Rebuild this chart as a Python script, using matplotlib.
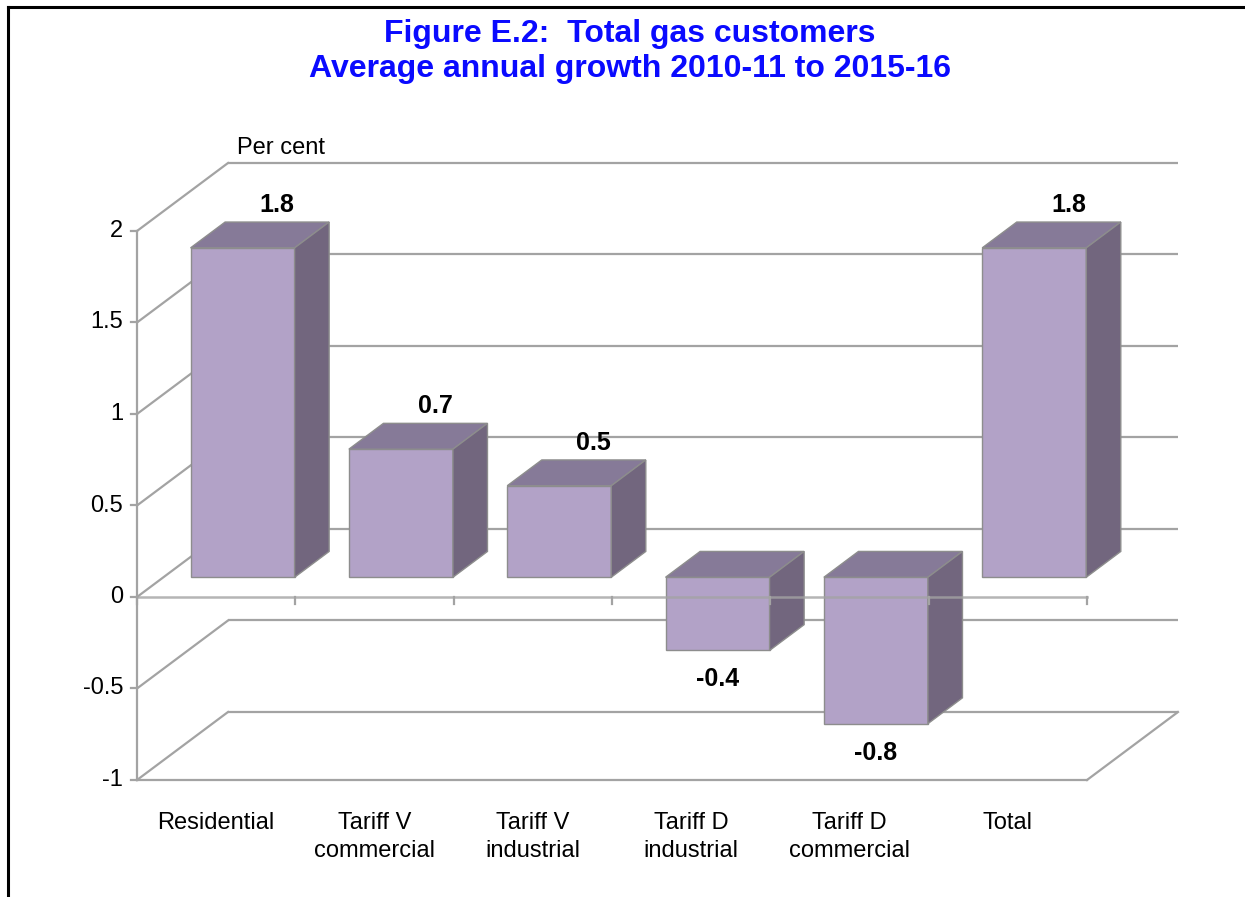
import matplotlib
matplotlib.use("Agg")
import matplotlib.pyplot as plt
from matplotlib.patches import Polygon
from matplotlib.lines import Line2D

# ---------------- data ----------------
categories = ["Residential", "Tariff V\ncommercial", "Tariff V\nindustrial",
              "Tariff D\nindustrial", "Tariff D\ncommercial", "Total"]
values = [1.8, 0.7, 0.5, -0.4, -0.8, 1.8]
value_labels = ["1.8", "0.7", "0.5", "-0.4", "-0.8", "1.8"]
y_ticks = [-1, -0.5, 0, 0.5, 1, 1.5, 2]
y_tick_labels = ["-1", "-0.5", "0", "0.5", "1", "1.5", "2"]
title = "Figure E.2:  Total gas customers\nAverage annual growth 2010-11 to 2015-16"
y_unit_label = "Per cent"

# ---------------- layout / style ----------------
W_PX, H_PX, DPI = 1245, 897, 100
X0_PX, UX_PX = 137.0, 158.33      # front-plane origin and px per category
Y0_PX, UY_PX = 597.0, 183.0       # zero line (from top) and px per unit
DX, DY = 91 / UX_PX, 68 / UY_PX   # full depth offset in data units
F0, F1 = 0.29, 0.67               # bar depth start / end fractions
BAR_W = 0.657

GRID = "#a3a3a3"
FRONT = "#b2a2c7"
TOP = "#867a98"
SIDE = "#72667e"
EDGE = "#8d8d8d"
FONT = ["Liberation Sans", "DejaVu Sans"]
plt.rcParams["font.family"] = FONT

fig = plt.figure(figsize=(W_PX / DPI, H_PX / DPI), dpi=DPI)
ax = fig.add_axes([0, 0, 1, 1])
ax.set_xlim(-X0_PX / UX_PX, (W_PX - X0_PX) / UX_PX)
ax.set_ylim(-(H_PX - Y0_PX) / UY_PX, Y0_PX / UY_PX)
ax.axis("off")

n = len(categories)
ymin, ymax = min(y_ticks), max(y_ticks)
px_x = 1 / UX_PX
px_y = 1 / UY_PX

# walls: back horizontal gridlines + left wall diagonals
for v in y_ticks:
    ax.plot([DX, n + DX], [v + DY, v + DY], color=GRID, lw=1.6, zorder=1,
            solid_capstyle="butt")
    ax.plot([0, DX], [v, v + DY], color=GRID, lw=1.6, zorder=1)
# floor front edge and right edge
ax.plot([0, n], [ymin, ymin], color=GRID, lw=1.6, zorder=1)
ax.plot([n, n + DX], [ymin, ymin + DY], color=GRID, lw=1.6, zorder=1)
# vertical value axis
ax.plot([0, 0], [ymin, ymax], color=GRID, lw=1.6, zorder=2)
for v, lab in zip(y_ticks, y_tick_labels):
    ax.plot([-6 * px_x, 0], [v, v], color=GRID, lw=1.6, zorder=2)
    ax.annotate(lab, (0, v), xytext=(-14, 0), textcoords="offset pixels",
                ha="right", va="center", fontsize=17, color="black")

# bars
for i, v in enumerate(values):
    x0 = i + 0.5 - BAR_W / 2 + F0 * DX
    x1 = x0 + BAR_W
    base = F0 * DY
    top = max(v, 0) + base
    bot = min(v, 0) + base
    ddx, ddy = (F1 - F0) * DX, (F1 - F0) * DY
    z = 5 + i
    ax.add_patch(Polygon([(x0, bot), (x1, bot), (x1, top), (x0, top)],
                         closed=True, fc=FRONT, ec=EDGE, lw=1.0, zorder=z))
    ax.add_patch(Polygon([(x0, top), (x1, top), (x1 + ddx, top + ddy),
                          (x0 + ddx, top + ddy)],
                         closed=True, fc=TOP, ec=EDGE, lw=1.0, zorder=z))
    ax.add_patch(Polygon([(x1, bot), (x1, top), (x1 + ddx, top + ddy),
                          (x1 + ddx, bot + ddy)],
                         closed=True, fc=SIDE, ec=EDGE, lw=1.0, zorder=z))
    if v >= 0:
        ax.annotate(value_labels[i], (i + 0.5 + F1 * DX, top + ddy),
                    xytext=(0, 17), textcoords="offset pixels",
                    ha="center", va="center", fontsize=18,
                    fontweight="bold", zorder=20)
    else:
        ax.annotate(value_labels[i], (i + 0.5 + F0 * DX, bot),
                    xytext=(0, -29), textcoords="offset pixels",
                    ha="center", va="center", fontsize=18,
                    fontweight="bold", zorder=20)

# category axis (front zero line) drawn over bars
ax.plot([0, n], [0, 0], color=GRID, lw=1.8, alpha=0.8, zorder=30)
for i in range(n + 1):
    ax.plot([i, i], [0, -7 * px_y], color=GRID, lw=1.6, zorder=30)

# category labels
for i, c in enumerate(categories):
    ax.annotate(c, (i + 0.5, ymin), xytext=(0, -32), textcoords="offset pixels",
                ha="center", va="top", fontsize=17, linespacing=1.35)

# unit label
ax.annotate(y_unit_label, (DX, ymax + DY), xytext=(9, 4),
            textcoords="offset pixels", ha="left", va="bottom", fontsize=17)

# title
fig.text(630 / W_PX, 1 - 19 / H_PX, title, ha="center", va="top",
         fontsize=23, fontweight="bold", color="#0a0aff", linespacing=1.2)

# frame (top and left border)
fig.add_artist(Line2D([8 / W_PX, 8 / W_PX], [0, 1 - 7 / H_PX],
                      transform=fig.transFigure, color="black", lw=2.2))
fig.add_artist(Line2D([8 / W_PX, 1], [1 - 7 / H_PX, 1 - 7 / H_PX],
                      transform=fig.transFigure, color="black", lw=2.2))

fig.savefig("out.png", dpi=DPI, facecolor="white")
